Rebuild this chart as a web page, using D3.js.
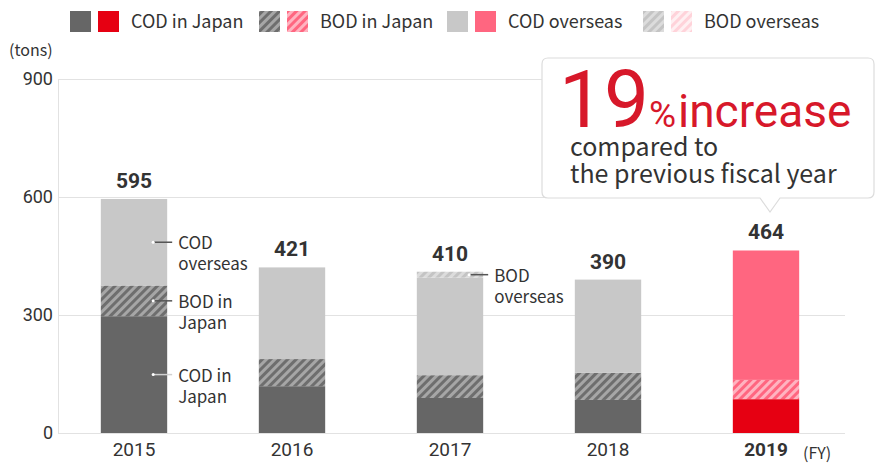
<!DOCTYPE html>
<html lang="en">
<head>
  <meta charset="UTF-8">
  <title>COD / BOD</title>
  <script src="https://cdn.jsdelivr.net/npm/d3@7"></script>
</head>
<body>
<style>
  * { padding: 0; margin: 0; }
  body { background: #fff; }
  #app { width: 878px; height: 465px; }
  text { font-family: "Noto Sans CJK JP", "Noto Sans", sans-serif; fill: #333; }
  .num { font-family: Roboto, "Noto Sans", sans-serif; }
</style>

<div id="app"></div>

<script>
  // data
  const years = ["2015", "2016", "2017", "2018", "2019"];
  const codJapan    = [297, 119, 89, 84, 86];
  const bodJapan    = [78, 69, 58, 69, 49];
  const codOverseas = [220, 233, 248, 237, 329];
  const bodOverseas = [0, 0, 15, 0, 0];
  const totals      = [595, 421, 410, 390, 464];
  const yTicks      = [0, 300, 600, 900];
  const keys = ["codJ", "bodJ", "codO", "bodO"];
  const legendNames = ["COD in Japan", "BOD in Japan", "COD overseas", "BOD overseas"];

  const $width = 878, $height = 465;
  const svg = d3.select("#app").append("svg").attr("width", $width).attr("height", $height);

  const scaleX = d3.scaleBand().domain(years).range([55, 845]).paddingInner(0.58).paddingOuter(0.29);
  const scaleY = d3.scaleLinear().domain([0, 900]).range([433, 79]);

  // patterns
  const defs = svg.append("defs");
  function hatch(id, bg, fg) {
    const p = defs.append("pattern").attr("id", id).attr("patternUnits", "userSpaceOnUse")
      .attr("width", 6).attr("height", 6).attr("patternTransform", "rotate(45)");
    p.append("rect").attr("width", 6).attr("height", 6).attr("fill", bg);
    p.append("rect").attr("width", 3).attr("height", 6).attr("fill", fg);
  }
  hatch("hGrayDark", "#a6a6a6", "#6e6e6e");
  hatch("hRed", "#ffb3c0", "#ff6680");
  hatch("hGrayLight", "#dcdcdc", "#c4c4c4");
  hatch("hPink", "#fff0f2", "#ffd3da");

  const colors = {
    codJ: ["#666666", "#e60012"],
    bodJ: ["url(#hGrayDark)", "url(#hRed)"],
    codO: ["#c8c8c8", "#ff6680"],
    bodO: ["url(#hGrayLight)", "url(#hPink)"]
  };

  // gridlines
  svg.append("g").selectAll("line").data(yTicks).enter().append("line")
    .attr("x1", 58).attr("x2", 845)
    .attr("y1", d => scaleY(d) + 0.5).attr("y2", d => scaleY(d) + 0.5)
    .attr("stroke", "#e2e2e2").attr("stroke-width", 1);
  svg.append("line").attr("x1", 58.5).attr("x2", 58.5).attr("y1", scaleY(900)).attr("y2", scaleY(0))
    .attr("stroke", "#e2e2e2");

  // y axis
  const axisY = d3.axisLeft(scaleY).tickValues(yTicks).tickSize(0).tickPadding(5);
  const gy = svg.append("g").attr("transform", "translate(58,0)").call(axisY);
  gy.select(".domain").remove();
  gy.selectAll("text").attr("class", "num").attr("font-size", 18).attr("fill", "#333");
  svg.append("text").attr("x", 9).attr("y", 56).attr("font-size", 16).text("(tons)");

  // x axis
  const axisX = d3.axisBottom(scaleX).tickSize(0).tickPadding(10);
  const gx = svg.append("g").attr("transform", "translate(0,433)").call(axisX);
  gx.select(".domain").remove();
  gx.selectAll("text").attr("class", "num").attr("font-size", 19).attr("fill", "#333")
    .attr("font-weight", d => d === "2019" ? "bold" : "normal");
  svg.append("text").attr("x", 803).attr("y", 459).attr("font-size", 16).text("(FY)");

  // stacked bars
  const rows = years.map((y, i) => ({
    year: y, codJ: codJapan[i], bodJ: bodJapan[i], codO: codOverseas[i], bodO: bodOverseas[i], total: totals[i]
  }));
  const series = d3.stack().keys(keys)(rows);
  series.forEach(s => {
    svg.append("g").selectAll("rect").data(s).enter().append("rect")
      .attr("x", d => scaleX(d.data.year))
      .attr("width", scaleX.bandwidth())
      .attr("y", d => scaleY(d[1]))
      .attr("height", d => scaleY(d[0]) - scaleY(d[1]))
      .attr("fill", d => colors[s.key][d.data.year === "2019" ? 1 : 0]);
  });

  // totals
  svg.append("g").selectAll("text").data(rows).enter().append("text")
    .attr("class", "num")
    .attr("x", d => scaleX(d.year) + scaleX.bandwidth() / 2)
    .attr("y", d => scaleY(d.total) - 11)
    .attr("text-anchor", "middle").attr("font-size", 21).attr("font-weight", "bold")
    .text(d => d.total);

  // segment annotations
  const notes = [
    { year: "2015", key: "codO", lines: ["COD", "overseas"] },
    { year: "2015", key: "bodJ", lines: ["BOD in", "Japan"] },
    { year: "2015", key: "codJ", lines: ["COD in", "Japan"] },
    { year: "2017", key: "bodO", lines: ["BOD", "overseas"] }
  ];
  notes.forEach(n => {
    const s = series.find(v => v.key === n.key);
    const d = s[years.indexOf(n.year)];
    const ym = scaleY((d[0] + d[1]) / 2);
    const xr = scaleX(n.year) + scaleX.bandwidth();
    svg.append("line").attr("x1", xr - 14).attr("x2", xr + 5).attr("y1", ym).attr("y2", ym)
      .attr("stroke", n.key === "codJ" ? "#d0d0d0" : "#555").attr("stroke-width", 1.5);
    svg.append("circle").attr("cx", xr - 14).attr("cy", ym).attr("r", 1.5).attr("fill", "#fff");
    n.lines.forEach((t, j) => {
      svg.append("text").attr("x", xr + 11).attr("y", ym + 7 + j * 21).attr("font-size", 17).text(t);
    });
  });

  // legend
  const legendX = [70, 259, 447, 643];
  const lg = svg.append("g");
  keys.forEach((k, i) => {
    const x0 = legendX[i];
    lg.append("rect").attr("x", x0).attr("y", 11).attr("width", 21).attr("height", 21).attr("fill", colors[k][0]);
    lg.append("rect").attr("x", x0 + 28).attr("y", 11).attr("width", 21).attr("height", 21).attr("fill", colors[k][1]);
    lg.append("text").attr("x", x0 + 61).attr("y", 28).attr("font-size", 18).text(legendNames[i]);
  });

  // callout
  const cx = scaleX("2019") + scaleX.bandwidth() / 2 + 4;
  const co = svg.append("g");
  co.append("path")
    .attr("d", `M548,58 H868 Q874,58 874,64 V192 Q874,198 868,198 H${cx + 10} L${cx},212 L${cx - 10},198 H548 Q542,198 542,192 V64 Q542,58 548,58 Z`)
    .attr("fill", "#fff").attr("stroke", "#dcdcdc").attr("stroke-width", 1.2);
  const big = co.append("text").attr("x", 559).attr("y", 127).attr("fill", "#d7182a");
  big.append("tspan").attr("class", "num").attr("font-size", 80).attr("fill", "#d7182a").text("19");
  big.append("tspan").attr("class", "num").attr("font-size", 37).attr("fill", "#d7182a").attr("dx", 0).text("%");
  big.append("tspan").attr("class", "num").attr("font-size", 46).attr("fill", "#d7182a").attr("dx", 2).text("increase");
  co.append("text").attr("x", 570).attr("y", 156).attr("font-size", 25).attr("fill", "#333").text("compared to");
  co.append("text").attr("x", 570).attr("y", 183).attr("font-size", 25).attr("fill", "#333").text("the previous fiscal year");
</script>
</body>
</html>
